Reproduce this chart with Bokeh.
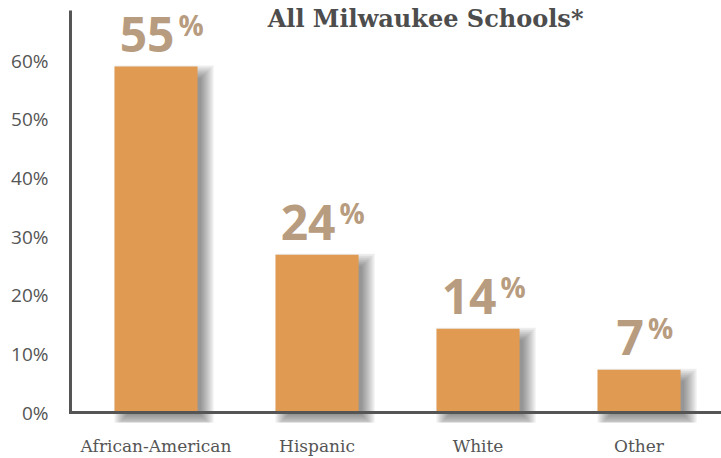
from bokeh.plotting import figure
from bokeh.models import FixedTicker, PrintfTickFormatter, Label, ColumnDataSource
from bokeh.core.properties import value
from bokeh.embed import file_html
from bokeh.resources import INLINE

# ---- data ----
categories = ["African-American", "Hispanic", "White", "Other"]
bar_values = [59.0, 26.9, 14.3, 7.3]          # bar heights as drawn (%)
label_values = ["55", "24", "14", "7"]         # printed labels
y_ticks = [0, 10, 20, 30, 40, 50, 60]
title_text = "All Milwaukee Schools*"

# ---- styling / scale constants ----
BAR = "#E09A51"
LABEL = "#B89C80"
TEXT = "#555555"
PX_X = 1 / 161.0      # data units per pixel (x)
PX_Y = 1 / 5.88       # data units per pixel (y)
x_start, x_end = -0.556, 3.512
y_start, y_end = -1.70, 70.24
bar_w = 0.516

xs = list(range(len(categories)))

p = figure(width=721, height=458, output_backend="svg", toolbar_location=None,
           x_range=(x_start, x_end), y_range=(y_start, y_end),
           min_border_left=66, min_border_right=0, min_border_top=0,
           min_border_bottom=35)
p.outline_line_color = None
p.grid.visible = False
p.background_fill_color = "white"
p.border_fill_color = "white"

# shadows (stacked translucent layers)
ox, oy = 8, 7
for e in [-4, -2, 0, 2, 4, 6, 8]:
    p.quad(left=[x - bar_w / 2 + (ox - e) * PX_X for x in xs],
           right=[x + bar_w / 2 + (ox + e) * PX_X for x in xs],
           top=[v - (oy - e) * PX_Y for v in bar_values],
           bottom=[-(oy + e) * PX_Y for _ in xs],
           fill_color="black", fill_alpha=0.07, line_color=None)

# bars
p.vbar(x=xs, top=bar_values, bottom=0, width=bar_w, fill_color=BAR, line_color=None)

# axis lines
axis_x = x_start + 4 * PX_X
p.segment(x0=[axis_x], y0=[-1.5 * PX_Y], x1=[axis_x], y1=[403 * PX_Y],
          line_color=TEXT, line_width=3)
p.segment(x0=[axis_x], y0=[0], x1=[x_end], y1=[0], line_color=TEXT, line_width=3)

# value labels: big number + small superscript %
split = [x + (8 + 13.5 * len(t) - 14.5) * PX_X for x, t in zip(xs, label_values)]
num_src = ColumnDataSource(dict(x=[s - 2 * PX_X for s in split],
                                y=[v + 32 * PX_Y for v in bar_values],
                                t=label_values))
pct_src = ColumnDataSource(dict(x=[s + 2 * PX_X for s in split],
                                y=[v + 42 * PX_Y for v in bar_values],
                                t=["%"] * len(label_values)))
p.text(x="x", y="y", text="t", source=num_src, text_align="right",
       text_baseline="alphabetic", text_font=value("Open Sans"),
       text_font_style="bold", text_font_size="48px", text_color=LABEL)
p.text(x="x", y="y", text="t", source=pct_src, text_align="left",
       text_baseline="alphabetic", text_font=value("Open Sans"),
       text_font_style="bold", text_font_size="28px", text_color=LABEL)

# title
p.add_layout(Label(x=(425 - 155.5) * PX_X, y=(413 - 18) * PX_Y, text=title_text,
                   text_align="center", text_baseline="middle",
                   text_font="DejaVu Serif", text_font_style="bold",
                   text_font_size="24px", text_color="#4D4D4D"))

# axes
p.xaxis.ticker = FixedTicker(ticks=xs)
p.xaxis.major_label_overrides = {i: c for i, c in zip(xs, categories)}
p.xaxis.major_label_text_font = "DejaVu Serif"
p.xaxis.major_label_text_font_size = "17px"
p.xaxis.major_label_text_color = TEXT
p.xaxis.major_label_standoff = 7
p.yaxis.ticker = FixedTicker(ticks=y_ticks)
p.yaxis.formatter = PrintfTickFormatter(format="%d%%")
p.yaxis.major_label_text_font = "Open Sans"
p.yaxis.major_label_text_font_size = "19px"
p.yaxis.major_label_text_color = TEXT
p.yaxis.major_label_standoff = 12
for ax in (p.xaxis, p.yaxis):
    ax.axis_line_color = None
    ax.major_tick_line_color = None
    ax.minor_tick_line_color = None

open("out.html", "w").write(file_html(p, INLINE))
